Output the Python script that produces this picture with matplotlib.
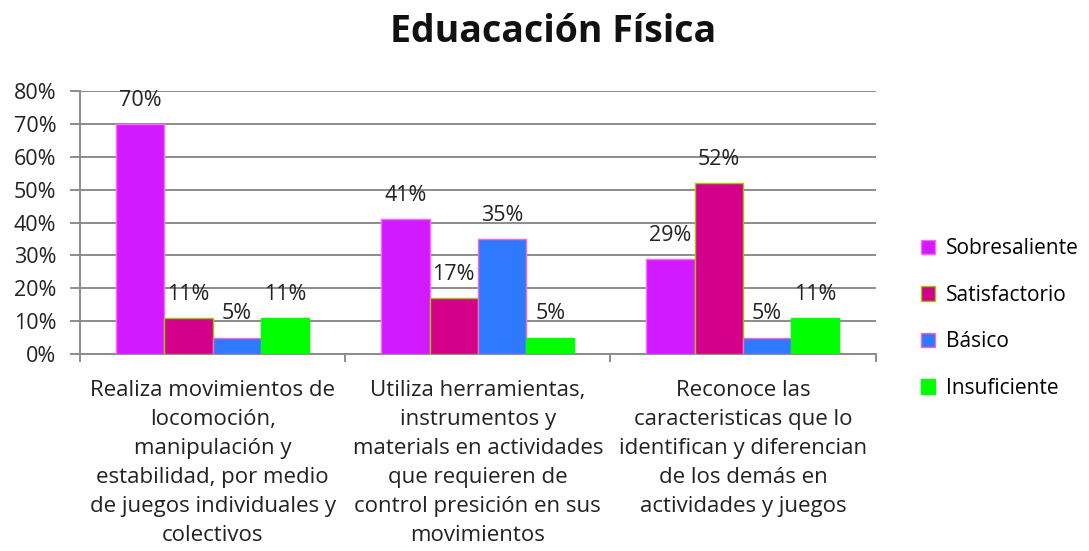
import numpy as np
import matplotlib.pyplot as plt
from matplotlib.ticker import FuncFormatter, MultipleLocator

plt.rcParams['font.family'] = ['Open Sans', 'DejaVu Sans']

categories = [
    "Realiza movimientos de\nlocomoción,\nmanipulación y\nestabilidad, por medio\nde juegos individuales y\ncolectivos",
    "Utiliza herramientas,\ninstrumentos y\nmaterials en actividades\nque requieren de\ncontrol presición en sus\nmovimientos",
    "Reconoce las\ncaracteristicas que lo\nidentifican y diferencian\nde los demás en\nactividades y juegos",
]
series_names = ["Sobresaliente", "Satisfactorio", "Básico", "Insuficiente"]
sobresaliente = [0.70, 0.41, 0.29]
satisfactorio = [0.11, 0.17, 0.52]
basico = [0.05, 0.35, 0.05]
insuficiente = [0.11, 0.05, 0.11]

colors = ['#d11aff', '#d4008c', '#2e79ff', '#00ff00']
edges = ['#ff66ff', '#99cc00', '#ff66cc', '#00ff00']

fig = plt.figure(figsize=(10.89, 5.51), dpi=100)
ax = fig.add_axes([0.0735, 0.3575, 0.7305, 0.4773])

x = np.arange(len(categories))
width = 0.182
all_series = [sobresaliente, satisfactorio, basico, insuficiente]

for i, (vals, name) in enumerate(zip(all_series, series_names)):
    pos = x + (i - 1.5) * width
    bars = ax.bar(pos, vals, width, color=colors[i], edgecolor=edges[i],
                  linewidth=1, label=name, zorder=3)
    for b, v in zip(bars, vals):
        ax.annotate(f"{v*100:.0f}%", (b.get_x() + b.get_width() / 2, v),
                    xytext=(0, 17), textcoords='offset points',
                    ha='center', va='center', fontsize=15.5, color='#222222')

ax.set_ylim(0, 0.8)
ax.set_xlim(-0.5, 2.5)
ax.yaxis.set_major_locator(MultipleLocator(0.1))
ax.yaxis.set_major_formatter(FuncFormatter(lambda v, p: f"{v*100:.0f}%"))
ax.grid(axis='y', color='#8c8c8c', linewidth=1.4, zorder=0)

ax.set_xticks(x)
ax.set_xticklabels(categories, fontsize=16, linespacing=1.5, color='#222222')
ax.set_xticks([-0.5, 0.5, 1.5, 2.5], minor=True)
ax.tick_params(axis='x', which='major', length=0, pad=19)
ax.tick_params(axis='x', which='minor', length=6, color='#8c8c8c', width=1.4)
ax.tick_params(axis='y', length=7, color='#8c8c8c', width=1.4,
               labelsize=15.5, labelcolor='#222222', pad=10)

for s in ['top', 'right']:
    ax.spines[s].set_visible(False)
ax.spines['left'].set_color('#8c8c8c')
ax.spines['left'].set_linewidth(1.4)
ax.spines['bottom'].set_color('#8c8c8c')
ax.spines['bottom'].set_linewidth(1.4)

fig.text(0.508, 0.942, "Eduacación Física", ha='center', va='center',
         fontsize=27, fontweight='bold', color='#111111')

ax.legend(loc='center left', bbox_to_anchor=(1.033, 0.135), frameon=False,
          fontsize=15, handlelength=0.7, handleheight=0.7, labelspacing=1.22,
          handletextpad=0.5)

fig.savefig('out.png', dpi=100)
